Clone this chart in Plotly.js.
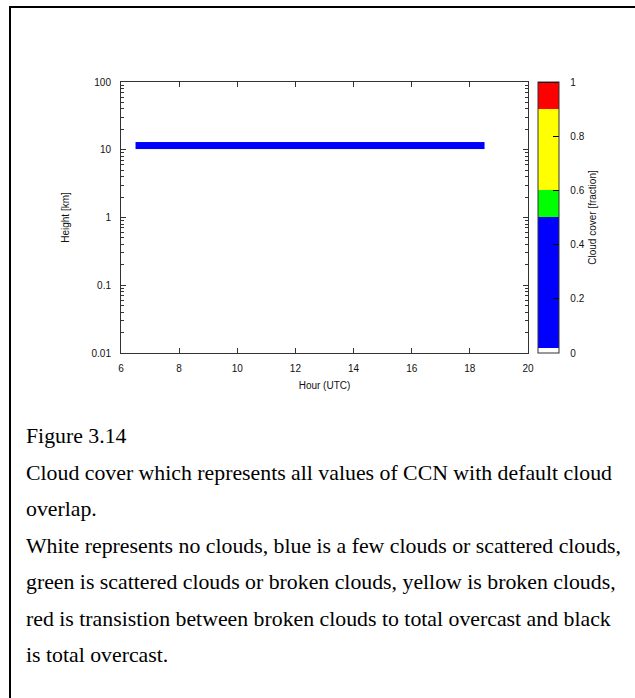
<!DOCTYPE html>
<html>
<head>
<meta charset="utf-8">
<script src="https://cdn.plot.ly/plotly-3.0.1.min.js"></script>
<style>
  html, body { margin: 0; padding: 0; background: #fff; }
  body { width: 635px; height: 698px; position: relative; overflow: hidden; }
  #frame { position: absolute; left: 9px; top: 6px; width: 640px; height: 700px;
           border-left: 2px solid #000; border-top: 2px solid #000; box-sizing: border-box; }
  #chart { position: absolute; left: 0; top: 0; width: 635px; height: 698px; }
  #caption { position: absolute; left: 26px; top: 418px; font-family: "Liberation Serif", "Times New Roman", serif;
             font-size: 21.8px; line-height: 36.5px; color: #000; white-space: nowrap; }
</style>
</head>
<body>
<div id="frame"></div>
<div id="chart"></div>
<div id="caption"></div>
<script>
// ---- data ----
const hourEdges = [6.5, 18.5];          // time extent of the cloud layer (UTC hours)
const heightEdges = [10.3, 13.0];       // height extent of the cloud layer (km)
const cloudCover = [[0.3]];             // cloud cover fraction in that cell
const xTickVals = [6, 8, 10, 12, 14, 16, 18, 20];
const yTickVals = [0.01, 0.1, 1, 10, 100];
const yTickText = ['0.01', '0.1', '1', '10', '100'];
const cbTickVals = [0, 0.2, 0.4, 0.6, 0.8, 1];
const cbTickText = ['0', '0.2', '0.4', '0.6', '0.8', '1'];
const captionLines = [
  'Figure 3.14',
  'Cloud cover which represents all values of CCN with default cloud',
  'overlap.',
  'White represents no clouds, blue is a few clouds or scattered clouds,',
  'green is scattered clouds or broken clouds, yellow is broken clouds,',
  'red is transistion between broken clouds to total overcast and black',
  'is total overcast.'
];

const colorscale = [
  [0, '#ffffff'], [0.02, '#ffffff'],
  [0.02, '#0000ff'], [0.5, '#0000ff'],
  [0.5, '#00ff00'], [0.6, '#00ff00'],
  [0.6, '#ffff00'], [0.9, '#ffff00'],
  [0.9, '#ff0000'], [0.995, '#ff0000'],
  [0.995, '#000000'], [1, '#000000']
];

const font = { family: '"Liberation Sans", Arial, Helvetica, sans-serif', size: 10, color: '#111' };
const pad = '\u00a0\u00a0\u00a0';

const trace = {
  type: 'heatmap',
  x: hourEdges,
  y: heightEdges,
  z: cloudCover,
  zmin: 0, zmax: 1,
  zsmooth: false,
  colorscale: colorscale,
  hoverinfo: 'skip',
  colorbar: {
    x: 1.0246, xanchor: 'left',
    y: 0.5, yanchor: 'middle', len: 1, lenmode: 'fraction',
    thickness: 21, thicknessmode: 'pixels',
    outlinewidth: 1, outlinecolor: '#333',
    xpad: 0, ypad: 0,
    tickvals: cbTickVals, ticktext: cbTickText.map(t => pad + t),
    ticks: 'inside', ticklen: 6, tickcolor: '#000', tickwidth: 1,
    tickfont: font,
    title: { text: 'Cloud cover [fraction]', side: 'right', font: font }
  }
};

const axisCommon = {
  showline: true, linecolor: '#333', linewidth: 1,
  mirror: 'ticks', ticks: 'inside', ticklen: 5, tickcolor: '#333',
  showgrid: false, zeroline: false, tickfont: font
};

const layout = {
  width: 635, height: 698,
  margin: { l: 121, r: 107, t: 82, b: 345 },
  paper_bgcolor: 'rgba(0,0,0,0)', plot_bgcolor: '#fff',
  font: font,
  showlegend: false,
  xaxis: Object.assign({}, axisCommon, {
    range: [6, 20], tickvals: xTickVals,
    ticklabelstandoff: 6,
    title: { text: 'Hour (UTC)', font: font, standoff: 8 }
  }),
  yaxis: Object.assign({}, axisCommon, {
    type: 'log', range: [-2, 2],
    tickvals: yTickVals, ticktext: yTickText,
    ticklabelstandoff: 7,
    minor: { ticks: 'inside', ticklen: 3, tickcolor: '#333', dtick: 'D1', showgrid: false },
    title: { text: 'Height [km]', font: font, standoff: 20 }
  })
};

Plotly.newPlot('chart', [trace], layout, { staticPlot: true, displayModeBar: false });

document.getElementById('caption').innerHTML = captionLines.map(s => '<div>' + s + '</div>').join('');
</script>
</body>
</html>
